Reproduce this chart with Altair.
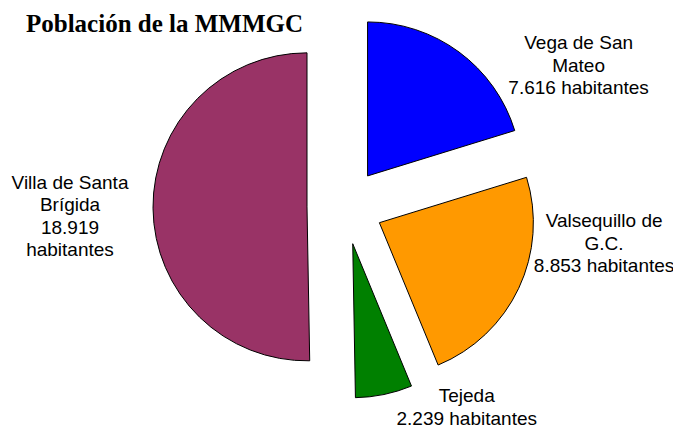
import math
import altair as alt
import pandas as pd

# ---- data ----
categories = ["Vega de San Mateo", "Valsequillo de G.C.", "Tejeda", "Villa de Santa Brígida"]
values = [7616, 8853, 2239, 18919]
label_names = ["Vega de San\nMateo", "Valsequillo de\nG.C.", "Tejeda", "Villa de Santa\nBrígida"]
label_units = [" habitantes", " habitantes", " habitantes", "\nhabitantes"]
colors = ["#0000FF", "#FF9900", "#008000", "#993366"]
title_text = "Población de la MMMGC"

# ---- table ----
total = sum(values)
starts, ends, acc = [], [], 0
for v in values:
    starts.append(acc)
    acc += v
    ends.append(acc)


def fmt(n):
    return f"{n:,}".replace(",", ".")


df = pd.DataFrame({
    "cat": categories,
    "value": values,
    "start": starts,
    "end": ends,
    "label": [f"{n}\n{fmt(v)}{u}" for n, v, u in zip(label_names, values, label_units)],
})

W, H = 665, 420
CX, CY = 337, 198.5
R = 154
EXPLODE = 38
LABEL_R = 230

mid = "((datum.start + datum.end) / 2) / %d * 2 * PI" % total

base = alt.Chart(df).transform_calculate(
    px=f"{CX} + {EXPLODE} * sin({mid})",
    py=f"{CY} - {EXPLODE} * cos({mid})",
    lx=f"{CX} + {LABEL_R} * sin({mid})",
    ly=f"{CY} - {LABEL_R} * cos({mid})",
)

arcs = base.mark_arc(radius=R, stroke="black", strokeWidth=1).encode(
    x=alt.X("px:Q", scale=None),
    y=alt.Y("py:Q", scale=None),
    theta=alt.Theta("start:Q", scale=alt.Scale(domain=[0, total], range=[0, 2 * math.pi])),
    theta2="end:Q",
    color=alt.Color("cat:N", scale=alt.Scale(domain=categories, range=colors), legend=None),
)

# label nudges relative to an anchor on each slice's mid-angle (first line centre)
nudges = {
    "Vega de San Mateo": (97, 22),
    "Valsequillo de G.C.": (51, -83),
    "Tejeda": (75, -35.5),
    "Villa de Santa Brígida": (-45, -26),
}

label_layers = []
for c in categories:
    dx, dy = nudges[c]
    label_layers.append(
        base.transform_filter(alt.datum.cat == c).mark_text(
            font="Liberation Sans", fontSize=19, lineHeight=22.5, lineBreak="\n",
            align="center", baseline="middle", color="black", dx=dx, dy=dy,
        ).encode(
            x=alt.X("lx:Q", scale=None),
            y=alt.Y("ly:Q", scale=None),
            text="label:N",
        )
    )

title = alt.Chart(pd.DataFrame({"t": [title_text]})).mark_text(
    font="Liberation Serif", fontSize=25, fontWeight="bold", align="left",
    baseline="alphabetic", color="black",
).encode(x=alt.value(18), y=alt.value(24), text="t:N")

chart = alt.layer(arcs, *label_layers, title).properties(
    width=W, height=H, padding=0, autosize=alt.AutoSizeParams(type="none")
).configure_view(stroke=None)

chart.save("out.html", embed_options={"renderer": "svg", "actions": False})
